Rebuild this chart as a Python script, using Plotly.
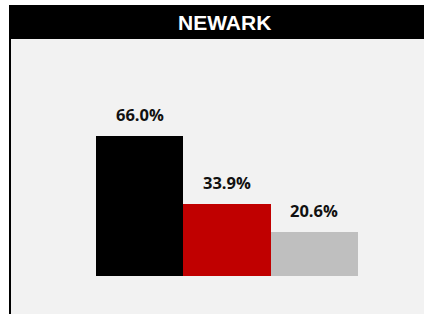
import plotly.graph_objects as go

categories = ["A", "B", "C"]
values = [66.0, 33.9, 20.6]
labels = ["66.0%", "33.9%", "20.6%"]
colors = ["#000000", "#c00000", "#bfbfbf"]
title = "NEWARK"

W, H = 424, 314
L, R, T, B = 96, 358, 39, 276  # plot area in pixels


def px(x):
    return (x - L) / (R - L)


def py(y):
    return (B - y) / (B - T)


fig = go.Figure(go.Bar(
    x=categories, y=values, marker=dict(color=colors, line=dict(width=0)),
    hoverinfo="skip", width=1.0,
))

for c, v, t in zip(categories, values, labels):
    fig.add_annotation(x=c, y=v, text=t, showarrow=False,
                       yanchor="bottom", yshift=8,
                       font=dict(family="Open Sans", size=16.5, color="#111111", weight="bold"))

shapes = [
    dict(type="rect", xref="paper", yref="paper", x0=px(0), x1=px(W), y0=py(0), y1=py(5),
         fillcolor="white", line=dict(width=0), layer="below"),
    dict(type="rect", xref="paper", yref="paper", x0=px(0), x1=px(9), y0=py(0), y1=py(H),
         fillcolor="white", line=dict(width=0), layer="below"),
    dict(type="rect", xref="paper", yref="paper", x0=px(9), x1=px(W), y0=py(5), y1=py(39),
         fillcolor="black", line=dict(width=0), layer="below"),
    dict(type="rect", xref="paper", yref="paper", x0=px(9), x1=px(11), y0=py(39), y1=py(H),
         fillcolor="black", line=dict(width=0), layer="below"),
]

fig.add_annotation(xref="paper", yref="paper", x=px(224.5), y=py(22.5), text=title,
                   showarrow=False, xanchor="center", yanchor="middle",
                   font=dict(family="Liberation Sans", size=21, color="white", weight="bold"))

fig.update_layout(
    width=W, height=H,
    margin=dict(l=L, r=W - R, t=T, b=H - B, pad=0),
    paper_bgcolor="#f2f2f2", plot_bgcolor="rgba(0,0,0,0)",
    shapes=shapes, bargap=0, showlegend=False,
    xaxis=dict(visible=False, range=[-0.5, 2.5], fixedrange=True),
    yaxis=dict(visible=False, range=[0, 237 / (140 / 66.0)], fixedrange=True),
)

fig.write_html("out.html", config={"displayModeBar": False},
               post_script="document.body.style.margin='0';document.body.style.overflow='hidden';")
